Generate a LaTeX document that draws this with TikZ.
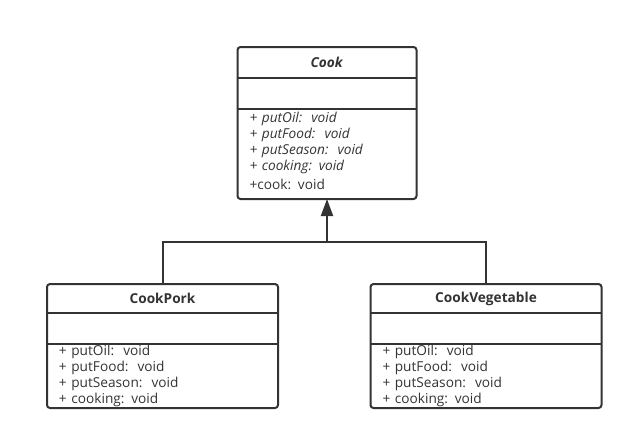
\documentclass[tikz,border=0pt]{standalone}
\usepackage{fontspec}
\setmainfont{Open Sans}
\usetikzlibrary{positioning,arrows.meta}
\definecolor{ink}{HTML}{333333}

\begin{document}
\begin{tikzpicture}[x=0.75pt,y=-0.75pt,line width=1.5pt,color=ink,
    font=\fontsize{10.25}{12}\selectfont,
    classtitle/.style={minimum width=#1,minimum height=22.5pt,inner sep=0pt,outer sep=0pt},
    classfield/.style={minimum width=#1,minimum height=23.25pt,inner sep=0pt,outer sep=0pt},
    classops/.style={inner xsep=9pt,inner ysep=0pt,outer sep=0pt,align=left}]
    \useasboundingbox (0,0) rectangle (633,440);
    % abstract class
    \node[classtitle=134.25pt,minimum height=23.25pt] (cook) at (327,62.5) {\textbf{\textit{Cook}}};
    \node[classfield=134.25pt,below=0pt of cook] (cookfields) {};
    \node[classops,text width=116.25pt,minimum height=67.5pt,below=0pt of cookfields] (cookops)
        {\textit{+ putOil:\ \ void}\\\textit{+ putFood:\ \ void}\\\textit{+ putSeason:\ \ void}\\\textit{+ cooking: void}\\[2.25pt]+cook: void\\[-7.5pt]\mbox{}};
    \draw[rounded corners=2.25pt] (cook.north west) rectangle (cookops.south east);
    \draw (cook.south west) -- (cook.south east);
    \draw (cookfields.south west) -- (cookfields.south east);
    % subclasses
    \node[classtitle=173.25pt,minimum height=21.75pt] (pork) at (162.5,298.5) {\textbf{CookPork}};
    \node[classfield=173.25pt,below=0pt of pork] (porkfields) {};
    \node[classops,text width=155.25pt,minimum height=48pt,below=0pt of porkfields] (porkops)
        {+ putOil:\ \ void\\+ putFood:\ \ void\\+ putSeason:\ \ void\\+ cooking: void};
    \draw[rounded corners=2.25pt] (pork.north west) rectangle (porkops.south east);
    \draw (pork.south west) -- (pork.south east);
    \draw (porkfields.south west) -- (porkfields.south east);
    \node[classtitle=173.25pt,minimum height=21.75pt] (veg) at (486,298.5) {\textbf{CookVegetable}};
    \node[classfield=173.25pt,below=0pt of veg] (vegfields) {};
    \node[classops,text width=155.25pt,minimum height=48pt,below=0pt of vegfields] (vegops)
        {+ putOil:\ \ void\\+ putFood:\ \ void\\+ putSeason:\ \ void\\+ cooking: void};
    \draw[rounded corners=2.25pt] (veg.north west) rectangle (vegops.south east);
    \draw (veg.south west) -- (veg.south east);
    \draw (vegfields.south west) -- (vegfields.south east);
    % generalisation
    \coordinate (join) at (327,242);
    \draw (pork.north) |- (join);
    \draw (veg.north) |- (join);
    \draw[-{Triangle[length=12.75pt,width=9pt]}] (join) -- (cookops.south);
\end{tikzpicture}
\end{document}
